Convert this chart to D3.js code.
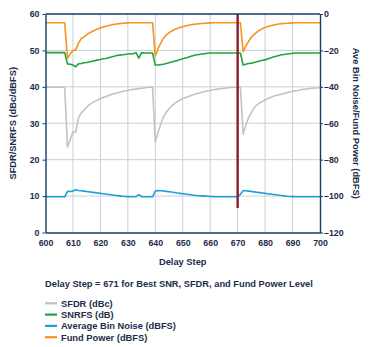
<!DOCTYPE html>
<html>
<head>
<meta charset="utf-8">
<script src="https://cdn.jsdelivr.net/npm/d3@7"></script>
<style>
  body { margin: 0; background: #fff; }
  svg text { font-family: "Liberation Sans", Arial, sans-serif; font-weight: bold; fill: #1b2d4b; }
</style>
</head>
<body>
<svg id="chart" width="376" height="347"></svg>
<script>
// delay steps 600..700
var steps = d3.range(600, 701);

// SFDR (dBc), left axis
var sfdr = [
  39.9, 39.9, 39.9, 39.9, 39.9, 39.9, 39.9, 39.9, 23.5, 25.5,
  27.6, 27.6, 31.5, 32.8, 33.6, 34.4, 35.1, 35.6, 36.0, 36.4,
  36.8, 37.1, 37.3, 37.6, 37.9, 38.1, 38.3, 38.5, 38.7, 38.9,
  39.0, 39.2, 39.3, 39.4, 39.5, 39.6, 39.7, 39.8, 39.9, 39.9,
  24.8, 27.5, 29.8, 31.8, 33.0, 34.0, 34.8, 35.4, 35.9, 36.4,
  36.8, 37.1, 37.3, 37.6, 37.9, 38.1, 38.3, 38.5, 38.7, 38.9,
  39.0, 39.2, 39.3, 39.4, 39.5, 39.6, 39.7, 39.8, 39.8, 39.9,
  39.9, 39.9, 27.0, 29.5, 31.5, 33.0, 34.2, 35.0, 35.6, 36.0,
  36.4, 36.8, 37.1, 37.4, 37.6, 37.8, 38.0, 38.2, 38.4, 38.6,
  38.8, 38.9, 39.0, 39.2, 39.3, 39.4, 39.5, 39.6, 39.7, 39.7,
  39.8
];

// SNRFS (dB), left axis
var snrfs = [
  49.4, 49.4, 49.4, 49.4, 49.4, 49.4, 49.4, 49.4, 46.3, 46.2,
  46.0, 45.5, 46.3, 46.4, 46.6, 46.7, 46.9, 47.0, 47.2, 47.4,
  47.5, 47.7, 47.8, 48.0, 48.2, 48.4, 48.6, 48.7, 48.8, 48.9,
  49.0, 49.1, 49.1, 49.4, 47.9, 49.4, 49.3, 49.3, 49.3, 49.3,
  46.0, 46.0, 46.1, 46.2, 46.4, 46.6, 46.8, 47.0, 47.2, 47.5,
  47.7, 47.9, 48.1, 48.4, 48.6, 48.8, 48.9, 49.0, 49.1, 49.2,
  49.3, 49.3, 49.3, 49.3, 49.3, 49.3, 49.3, 49.3, 49.3, 49.3,
  49.3, 49.3, 46.0, 46.2, 46.4, 46.5, 46.7, 46.9, 47.1, 47.3,
  47.4, 47.7, 47.9, 48.2, 48.4, 48.6, 48.8, 48.9, 49.0, 49.1,
  49.2, 49.3, 49.3, 49.3, 49.3, 49.3, 49.3, 49.3, 49.3, 49.3,
  49.3
];

// average bin noise (dBFS), right axis
var binNoise = [
  -100.4, -100.4, -100.4, -100.4, -100.4, -100.4, -100.4, -100.4, -97.4, -97.5,
  -97.3, -96.5, -96.9, -97.1, -97.3, -97.5, -97.7, -97.9, -98.1, -98.3,
  -98.5, -98.7, -98.9, -99.1, -99.3, -99.5, -99.7, -99.9, -100.1, -100.2,
  -100.3, -100.4, -100.4, -100.3, -99.2, -100.3, -100.4, -100.4, -100.4, -100.4,
  -97.2, -97.0, -97.1, -97.2, -97.4, -97.6, -97.8, -98.0, -98.3, -98.5,
  -98.7, -98.9, -99.1, -99.3, -99.5, -99.7, -99.8, -99.9, -100.0, -100.1,
  -100.2, -100.3, -100.4, -100.4, -100.4, -100.4, -100.4, -100.4, -100.4, -100.4,
  -100.4, -99.0, -97.0, -97.1, -97.3, -97.5, -97.7, -97.9, -98.1, -98.3,
  -98.5, -98.7, -98.9, -99.1, -99.3, -99.5, -99.7, -99.9, -100.1, -100.2,
  -100.3, -100.4, -100.4, -100.4, -100.4, -100.4, -100.4, -100.4, -100.4, -100.4,
  -100.4
];

// fundamental power (dBFS), right axis
var fundPower = [
  -4.8, -4.8, -4.8, -4.8, -4.8, -4.8, -4.8, -4.8, -24.3, -22.0,
  -20.0, -19.7, -16.0, -13.6, -12.6, -11.5, -10.4, -9.6, -8.9, -8.3,
  -7.7, -7.2, -6.7, -6.3, -6.0, -5.7, -5.5, -5.3, -5.1, -5.0,
  -4.9, -4.8, -4.8, -4.8, -4.8, -4.8, -4.8, -4.8, -4.8, -4.8,
  -23.0, -19.0, -16.0, -13.3, -11.5, -10.3, -9.3, -8.5, -7.9, -7.4,
  -7.0, -6.6, -6.2, -5.9, -5.7, -5.5, -5.3, -5.2, -5.1, -5.0,
  -4.9, -4.8, -4.8, -4.8, -4.8, -4.8, -4.8, -4.8, -4.8, -4.8,
  -4.8, -4.8, -20.7, -17.5, -15.0, -12.8, -11.2, -10.0, -8.9, -8.0,
  -7.4, -6.9, -6.5, -6.1, -5.8, -5.5, -5.3, -5.2, -5.1, -5.0,
  -4.9, -4.8, -4.8, -4.8, -4.8, -4.8, -4.8, -4.8, -4.8, -4.8,
  -4.8
];

var xTicks = d3.range(600, 701, 10);
var leftTicks = d3.range(0, 61, 10);
var rightTicks = d3.range(-120, 1, 20);

var markerStep = 670;     // chosen delay line
var markerLow = -106.5;   // where the marker stops (dBFS)

var legendNames = ["SFDR (dBc)", "SNRFS (dB)", "Average Bin Noise (dBFS)", "Fund Power (dBFS)"];
var legendColors = ["#c3c3c3", "#23a33f", "#1a9fd6", "#f7941d"];

var note = "Delay Step = 671 for Best SNR, SFDR, and Fund Power Level";

var svg = d3.select("#chart");
var m = {left: 45.5, right: 320, top: 14, bottom: 232.5};
var axisColor = "#123c68", gridColor = "#c6d1db";

var x = d3.scaleLinear().domain([600, 700]).range([m.left, m.right]);
var yL = d3.scaleLinear().domain([0, 60]).range([m.bottom, m.top]);
var yR = d3.scaleLinear().domain([-120, 0]).range([m.bottom, m.top]);

// grid
var grid = svg.append("g");
grid.selectAll("line.v").data(xTicks.slice(1, -1)).enter().append("line")
  .attr("x1", x).attr("x2", x).attr("y1", m.top).attr("y2", m.bottom)
  .attr("stroke", gridColor).attr("stroke-width", 1);
grid.selectAll("line.h").data(leftTicks.slice(1, -1)).enter().append("line")
  .attr("y1", yL).attr("y2", yL).attr("x1", m.left).attr("x2", m.right)
  .attr("stroke", gridColor).attr("stroke-width", 1);

// series
function drawSeries(vals, scale, color) {
  var line = d3.line()
    .x(function(d, i) { return x(steps[i]); })
    .y(function(d) { return scale(d); });
  svg.append("path").datum(vals)
    .attr("d", line)
    .attr("fill", "none")
    .attr("stroke", color)
    .attr("stroke-width", 1.6)
    .attr("stroke-linejoin", "round");
}
drawSeries(sfdr, yL, legendColors[0]);
drawSeries(snrfs, yL, legendColors[1]);
drawSeries(binNoise, yR, legendColors[2]);
drawSeries(fundPower, yR, legendColors[3]);

// marker line
svg.append("line")
  .attr("x1", x(markerStep)).attr("x2", x(markerStep))
  .attr("y1", m.top).attr("y2", yR(markerLow))
  .attr("stroke", "#8e1a2e").attr("stroke-width", 2.4);

// axes
function styleAxis(g) {
  g.select(".domain").attr("stroke", axisColor).attr("stroke-width", 1.4);
  g.selectAll(".tick line").attr("stroke", axisColor).attr("stroke-width", 1);
  g.selectAll(".tick text").attr("font-size", "8.8px").attr("fill", "#1b2d4b")
    .attr("font-family", "Liberation Sans, Arial, sans-serif").attr("font-weight", "bold");
}
svg.append("g").attr("transform", "translate(0," + m.bottom + ")")
  .call(d3.axisBottom(x).tickValues(xTicks).tickSize(0).tickPadding(7).tickSizeOuter(0))
  .call(styleAxis);
svg.append("g").attr("transform", "translate(" + m.left + ",0)")
  .call(d3.axisLeft(yL).tickValues(leftTicks).tickSize(3).tickPadding(3).tickSizeOuter(0))
  .call(styleAxis);
svg.append("g").attr("transform", "translate(" + m.right + ",0)")
  .call(d3.axisRight(yR).tickValues(rightTicks).tickSize(3).tickPadding(1).tickSizeOuter(0)
    .tickFormat(function(d) { return d < 0 ? "\u2013" + Math.abs(d) : d; }))
  .call(styleAxis);
// top frame
svg.append("line").attr("x1", m.left).attr("x2", m.right).attr("y1", m.top).attr("y2", m.top)
  .attr("stroke", axisColor).attr("stroke-width", 1.4);

// titles
svg.append("text").attr("x", (m.left + m.right) / 2).attr("y", 265)
  .attr("text-anchor", "middle").attr("font-size", "9.3px").text("Delay Step");
svg.append("text").attr("transform", "translate(16," + (m.top + m.bottom) / 2 + ") rotate(-90)")
  .attr("text-anchor", "middle").attr("font-size", "9.3px").text("SFDR/SNRFS (dBc/dBFS)");
svg.append("text").attr("transform", "translate(353," + (m.top + m.bottom) / 2 + ") rotate(90)")
  .attr("text-anchor", "middle").attr("font-size", "9.3px").text("Ave Bin Noise/Fund Power (dBFS)");

svg.append("text").attr("x", 45).attr("y", 286.5).attr("font-size", "9.3px").text(note);

// legend
var leg = svg.selectAll("g.leg").data(legendNames).enter().append("g")
  .attr("transform", function(d, i) { return "translate(45," + (303.3 + i * 11.3) + ")"; });
leg.append("line").attr("x1", 0).attr("x2", 12).attr("y1", 0).attr("y2", 0)
  .attr("stroke", function(d, i) { return legendColors[i]; }).attr("stroke-width", 2.2);
leg.append("text").attr("x", 16).attr("y", 3.3).attr("font-size", "9.3px").text(function(d) { return d; });
</script>
</body>
</html>
